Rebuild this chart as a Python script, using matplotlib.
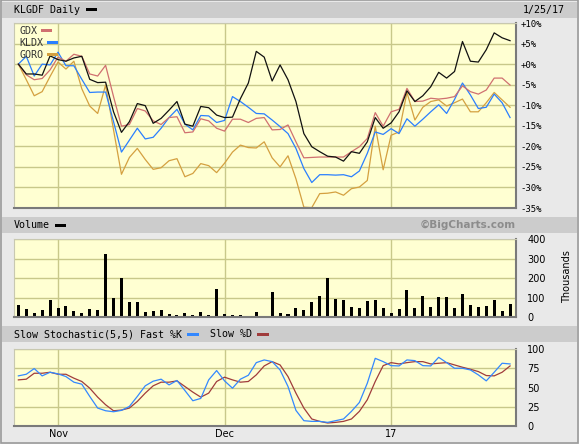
import matplotlib
matplotlib.use("Agg")
import matplotlib.pyplot as plt
from matplotlib.patches import Rectangle
import numpy as np

# percent change since start (daily, Oct 25 2016 - Jan 25 2017)
klgdf = [0.0, -2.4, -2.4, -2.7, 2.0, 1.1, 0.7, 1.5, 1.9, -3.7,
         -4.5, -4.4, -11.6, -16.6, -14.0, -9.6, -10.1, -14.4, -13.2, -11.2,
         -9.1, -14.6, -15.1, -10.3, -10.6, -12.4, -13.0, -12.9, -8.4, -4.6,
         3.1, 1.7, -4.1, -0.2, -3.8, -9.1, -16.9, -20.1, -21.3, -22.4,
         -22.6, -23.6, -21.3, -21.7, -18.9, -13.0, -15.6, -14.3, -11.6, -6.5,
         -9.1, -7.7, -5.5, -2.0, -3.4, -1.8, 5.5, 0.7, 0.5, 3.5,
         7.6, 6.4, 5.7]
gdx = [0.0, -2.6, -3.8, -3.5, -1.4, 1.7, 0.7, 2.4, 1.9, -2.4,
       -2.9, -0.3, -7.9, -15.1, -14.7, -10.8, -11.4, -13.8, -14.7, -13.0,
       -12.8, -16.7, -16.5, -13.3, -13.8, -15.6, -16.3, -13.4, -13.4, -14.2,
       -13.2, -13.0, -16.0, -15.9, -14.8, -18.9, -22.8, -22.7, -22.6, -22.6,
       -22.6, -22.6, -21.3, -20.1, -18.1, -11.8, -15.1, -11.6, -11.0, -5.9,
       -9.1, -9.0, -8.3, -8.5, -8.3, -7.9, -5.3, -6.7, -7.3, -6.3,
       -3.4, -3.4, -5.1]
kldx = [0.0, 1.9, -2.9, 0.0, -0.2, 2.9, -0.4, -0.4, -3.7, -6.9,
        -6.8, -6.8, -14.0, -21.4, -18.5, -15.6, -18.2, -17.8, -15.6, -13.0,
        -11.0, -14.6, -16.0, -12.5, -12.6, -14.2, -13.7, -7.9, -9.1, -10.5,
        -12.0, -12.1, -13.6, -15.2, -16.9, -20.5, -25.4, -28.8, -26.9, -26.9,
        -27.0, -26.9, -27.4, -26.0, -21.7, -16.5, -17.1, -15.7, -16.9, -13.3,
        -15.1, -13.4, -11.6, -9.9, -12.0, -8.6, -4.6, -7.5, -10.8, -10.5,
        -7.3, -9.4, -13.0]
goro = [0.0, -3.8, -7.7, -6.7, -3.0, 0.5, -1.2, 0.7, -6.0, -10.2,
        -12.0, -5.1, -16.0, -26.8, -22.7, -20.5, -23.2, -25.6, -25.2, -23.5,
        -23.0, -27.4, -26.6, -24.2, -24.7, -26.4, -24.1, -21.4, -19.7, -20.3,
        -20.4, -18.9, -22.8, -25.0, -22.3, -27.9, -34.8, -34.9, -31.5, -31.4,
        -31.1, -31.9, -30.3, -29.9, -28.3, -15.1, -25.7, -17.3, -16.5, -6.9,
        -13.6, -10.5, -9.1, -8.7, -10.2, -9.4, -8.5, -11.6, -11.6, -9.4,
        -6.9, -8.7, -10.5]

# volume, thousands
volume = [60, 43, 21, 36, 86, 45, 55, 29, 19, 40,
          34, 324, 100, 200, 76, 76, 26, 31, 34, 14,
          9, 19, 10, 24, 9, 143, 14, 9, 9, 3,
          24, 3, 128, 19, 14, 45, 36, 76, 107, 200,
          91, 86, 50, 45, 83, 86, 45, 19, 40, 138,
          45, 107, 50, 102, 102, 45, 117, 62, 50, 55,
          86, 31, 66]

# slow stochastic (5,5)
fast_k = [65.1, 67.2, 74.6, 65.1, 69.8, 67.7, 64.2, 56.9, 54.3, 38.4,
          23.3, 19.8, 18.5, 20.3, 25.4, 38.4, 52.2, 58.2, 60.8, 53.4,
          59.1, 46.1, 32.8, 35.8, 59.9, 72.0, 58.6, 49.1, 60.8, 65.9,
          82.3, 85.8, 83.6, 72.8, 51.3, 20.3, 6.9, 6.0, 6.0, 4.7,
          6.9, 9.1, 19.0, 30.6, 55.6, 87.9, 83.6, 78.4, 78.0, 85.8,
          84.9, 78.4, 78.0, 89.2, 82.3, 75.0, 75.0, 72.8, 66.4, 58.6,
          69.8, 81.5, 80.6]
slow_d = [59.9, 60.8, 68.5, 68.5, 69.8, 67.2, 67.2, 62.1, 57.8, 49.1,
          37.5, 27.6, 19.8, 20.7, 23.3, 31.9, 42.7, 52.2, 56.9, 56.9,
          58.6, 51.3, 44.0, 37.5, 42.7, 57.8, 63.4, 59.9, 56.9, 57.8,
          66.4, 78.0, 83.6, 79.3, 64.2, 42.7, 23.3, 9.1, 6.0, 3.9,
          4.7, 6.0, 9.1, 19.0, 34.1, 57.8, 78.4, 82.3, 80.6, 82.3,
          83.6, 83.6, 80.6, 81.5, 82.3, 79.3, 76.3, 73.7, 70.7, 65.5,
          65.1, 69.8, 78.0]

month_pos = [5, 26, 47]
month_labels = ["Nov", "Dec", "17"]
pct_ticks = [-35, -30, -25, -20, -15, -10, -5, 0, 5, 10]
vol_ticks = [0, 100, 200, 300, 400]
sto_ticks = [0, 25, 50, 75, 100]

C_BLACK = "#111111"
C_GDX = "#d07070"
C_KLDX = "#2a7fff"
C_GORO = "#d4a040"
C_K = "#3388ff"
C_D = "#a03c3c"
PANEL = "#ffffd2"
GRID = "#c8c88a"
MONO = "DejaVu Sans Mono"
LW = 0.9

W, H = 579, 444
fig = plt.figure(figsize=(W / 100, H / 100), dpi=100, facecolor="#e9e9e9")

bg = fig.add_axes([0, 0, 1, 1])
bg.set_xlim(0, W)
bg.set_ylim(H, 0)
bg.axis("off")
bg.add_patch(Rectangle((0.5, 0.5), W - 1.5, H - 1.5, fill=False, ec="#9a9a9a", lw=1.2))
for y0, y1 in [(2, 18), (217, 233), (326, 342)]:
    bg.add_patch(Rectangle((2, y0), W - 4, y1 - y0, color="#cccccc", lw=0))

# header texts and swatches
bg.text(14, 10, "KLGDF Daily", family=MONO, fontsize=7.2, va="center")
bg.add_patch(Rectangle((86, 8.5), 11, 3, color="black", lw=0))
bg.text(544, 10, "1/25/17", family=MONO, fontsize=7.2, va="center", ha="center")
bg.text(14, 225, "Volume", family=MONO, fontsize=7.2, va="center")
bg.add_patch(Rectangle((55, 223.5), 11, 3, color="black", lw=0))
bg.text(516, 225, "\u00a9BigCharts.com", fontsize=7.5, weight="bold",
        color="#8c8c8c", va="center", ha="right")
bg.text(14, 334, "Slow Stochastic(5,5) Fast %K", family=MONO, fontsize=7.2, va="center")
bg.add_patch(Rectangle((187, 332.5), 12, 3, color=C_K, lw=0))
bg.text(210, 334, "Slow %D", family=MONO, fontsize=7.2, va="center")
bg.add_patch(Rectangle((257, 332.5), 12, 3, color=C_D, lw=0))
bg.text(567, 277, "Thousands", fontsize=7, rotation=90, va="center", ha="center")


def px_axes(x0, y0, x1, y1):
    return fig.add_axes([x0 / W, 1 - y1 / H, (x1 - x0) / W, (y1 - y0) / H])


def style(ax, ticks, labels, pad, fam=None, size=7):
    ax.set_facecolor(PANEL)
    ax.set_xlim(-0.55, 62.75)
    ax.set_yticks(ticks)
    ax.set_yticklabels(labels)
    ax.yaxis.tick_right()
    ax.tick_params(axis="y", length=0, pad=pad, labelsize=size)
    if fam:
        for t in ax.get_yticklabels():
            t.set_family(fam)
    ax.grid(axis="y", color=GRID, lw=1)
    ax.set_xticks(month_pos)
    ax.grid(axis="x", color=GRID, lw=1)
    ax.tick_params(axis="x", length=0, labelbottom=False)
    ax.set_axisbelow(True)
    for s in ["top", "left"]:
        ax.spines[s].set_color("#c8c8b0")
        ax.spines[s].set_linewidth(0.8)
    for s in ["bottom", "right"]:
        ax.spines[s].set_color("#7a7a7a")
        ax.spines[s].set_linewidth(1.5)


x = np.arange(len(klgdf))

main = px_axes(14, 23, 516, 208)
main.set_ylim(-35, 10)
style(main, pct_ticks, [("+" if v >= 0 else "") + f"{v}%" for v in pct_ticks], 3, MONO, 6.5)
main.plot(x, goro, color=C_GORO, lw=LW)
main.plot(x, kldx, color=C_KLDX, lw=LW)
main.plot(x, gdx, color=C_GDX, lw=LW)
main.plot(x, klgdf, color=C_BLACK, lw=LW)
for i, (name, col) in enumerate([("GDX", C_GDX), ("KLDX", C_KLDX), ("GORO", C_GORO)]):
    ytxt = 31 + i * 11.8
    bg.text(19, ytxt, name, family=MONO, fontsize=7.2, va="center", color="#333333", zorder=5)
    bg.add_patch(Rectangle((19 + 6 * len(name) + 4, ytxt - 1.5), 11, 3, color=col, lw=0, zorder=5))
bg.set_zorder(3)
bg.patch.set_alpha(0)

vol = px_axes(14, 239, 516, 317)
vol.set_ylim(0, 400)
style(vol, vol_ticks, [str(v) for v in vol_ticks], 8)
vol.bar(x, volume, width=0.38, color="black")

sto = px_axes(14, 349, 516, 426)
sto.set_ylim(0, 100)
style(sto, sto_ticks, [str(v) for v in sto_ticks], 8)
sto.plot(x, slow_d, color=C_D, lw=LW)
sto.plot(x, fast_k, color=C_K, lw=LW)
sto.set_xticklabels(month_labels)
sto.tick_params(axis="x", labelbottom=True, labelsize=7, pad=2)

fig.savefig("out.png", dpi=100, facecolor=fig.get_facecolor())
